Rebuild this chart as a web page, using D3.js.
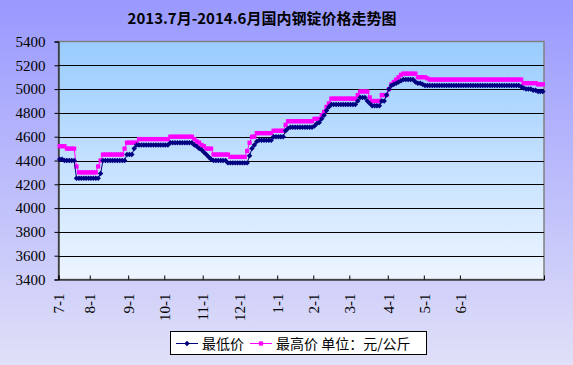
<!DOCTYPE html>
<html>
<head>
<meta charset="utf-8">
<script src="https://cdn.jsdelivr.net/npm/d3@7"></script>
<style>
  body { margin: 0; }
</style>
</head>
<body>
<div class="canvas"></div>
<script>
// month labels on the category axis and the category where each one sits
const tickLabels = ["7-1", "8-1", "9-1", "10-1", "11-1", "12-1", "1-1", "2-1", "3-1", "4-1", "5-1", "6-1"]
const tickIndex = [0, 13, 29, 44, 60, 75, 91, 106, 121, 137, 152, 167]
const yTicks = [3400, 3600, 3800, 4000, 4200, 4400, 4600, 4800, 5000, 5200, 5400]

// 最低价 (元/公斤), one value per quote
const lowPrices = [
  4410, 4410, 4400, 4400, 4400, 4400, 4400, 4250, 4250, 4250,
  4250, 4250, 4250, 4250, 4250, 4250, 4250, 4290, 4400, 4400,
  4400, 4400, 4400, 4400, 4400, 4400, 4400, 4400, 4450, 4450,
  4450, 4500, 4530, 4530, 4530, 4530, 4530, 4530, 4530, 4530,
  4530, 4530, 4530, 4530, 4530, 4530, 4550, 4550, 4550, 4550,
  4550, 4550, 4550, 4550, 4550, 4550, 4530, 4520, 4500, 4490,
  4470, 4450, 4430, 4410, 4400, 4400, 4400, 4400, 4400, 4400,
  4380, 4380, 4380, 4380, 4380, 4380, 4380, 4380, 4380, 4440,
  4500, 4530, 4560, 4570, 4570, 4570, 4570, 4570, 4570, 4600,
  4600, 4600, 4600, 4600, 4650, 4670, 4680, 4680, 4680, 4680,
  4680, 4680, 4680, 4680, 4680, 4680, 4690, 4710, 4720, 4750,
  4780, 4820, 4850, 4870, 4870, 4870, 4870, 4870, 4870, 4870,
  4870, 4870, 4870, 4870, 4900, 4930, 4930, 4930, 4900, 4880,
  4860, 4860, 4860, 4860, 4900, 4900, 4950, 5000, 5030, 5040,
  5050, 5060, 5070, 5080, 5080, 5080, 5080, 5080, 5060, 5050,
  5050, 5040, 5030, 5030, 5030, 5030, 5030, 5030, 5030, 5030,
  5030, 5030, 5030, 5030, 5030, 5030, 5030, 5030, 5030, 5030,
  5030, 5030, 5030, 5030, 5030, 5030, 5030, 5030, 5030, 5030,
  5030, 5030, 5030, 5030, 5030, 5030, 5030, 5030, 5030, 5030,
  5030, 5030, 5020, 5010, 5000, 5000, 5000, 4990, 4990, 4980,
  4980, 4980
]

// 最高价 (元/公斤)
const highPrices = [
  4520, 4520, 4520, 4500, 4500, 4500, 4500, 4350, 4300, 4300,
  4300, 4300, 4300, 4300, 4300, 4300, 4350, 4400, 4450, 4450,
  4450, 4450, 4450, 4450, 4450, 4450, 4450, 4500, 4550, 4550,
  4550, 4550, 4550, 4580, 4580, 4580, 4580, 4580, 4580, 4580,
  4580, 4580, 4580, 4580, 4580, 4580, 4600, 4600, 4600, 4600,
  4600, 4600, 4600, 4600, 4600, 4600, 4580, 4560, 4550, 4530,
  4520, 4500, 4500, 4500, 4450, 4450, 4450, 4450, 4450, 4450,
  4450, 4430, 4430, 4430, 4430, 4430, 4430, 4430, 4480, 4550,
  4600, 4600, 4630, 4630, 4630, 4630, 4630, 4630, 4630, 4650,
  4650, 4650, 4650, 4650, 4700, 4730, 4730, 4730, 4730, 4730,
  4730, 4730, 4730, 4730, 4730, 4730, 4750, 4750, 4750, 4780,
  4810, 4850, 4880, 4920, 4920, 4920, 4920, 4920, 4920, 4920,
  4920, 4920, 4920, 4920, 4950, 4980, 4980, 4980, 4980, 4930,
  4900, 4900, 4900, 4900, 4950, 4950, 4950, 5000, 5040, 5060,
  5080, 5100, 5120, 5130, 5130, 5130, 5130, 5130, 5130, 5100,
  5100, 5100, 5100, 5090, 5080, 5080, 5080, 5080, 5080, 5080,
  5080, 5080, 5080, 5080, 5080, 5080, 5080, 5080, 5080, 5080,
  5080, 5080, 5080, 5080, 5080, 5080, 5080, 5080, 5080, 5080,
  5080, 5080, 5080, 5080, 5080, 5080, 5080, 5080, 5080, 5080,
  5080, 5080, 5080, 5050, 5050, 5050, 5050, 5050, 5050, 5040,
  5040, 5040
]

const width = 573
const height = 365
const plotLeft = 58.5, plotRight = 544, plotTop = 41.5, plotBottom = 279.5

const svg = d3
  .select(".canvas")
  .append("svg")
  .attr("width", width)
  .attr("height", height)

const defs = svg.append("defs")
const bgGrad = defs.append("linearGradient").attr("id", "bg").attr("x1", 0).attr("y1", 0).attr("x2", 0).attr("y2", 1)
bgGrad.append("stop").attr("offset", "0%").attr("stop-color", "#9999ff")
bgGrad.append("stop").attr("offset", "100%").attr("stop-color", "#e0e0f8")
const plotGrad = defs.append("linearGradient").attr("id", "plotbg").attr("x1", 0).attr("y1", 0).attr("x2", 0).attr("y2", 1)
plotGrad.append("stop").attr("offset", "0%").attr("stop-color", "#99ccff")
plotGrad.append("stop").attr("offset", "100%").attr("stop-color", "#eef5ff")

svg.append("rect").attr("width", width).attr("height", height).attr("fill", "url(#bg)")

// title
svg
  .append("text")
  .attr("x", 262)
  .attr("y", 24)
  .attr("text-anchor", "middle")
  .style("font-family", "'Noto Sans CJK SC', sans-serif")
  .style("font-size", "15px")
  .style("font-weight", "bold")
  .text("2013.7月-2014.6月国内钢锭价格走势图")

let x = d3.scaleLinear().domain([0, lowPrices.length]).range([plotLeft, plotRight])
let y = d3.scaleLinear().domain([3400, 5400]).range([plotBottom, plotTop])

svg
  .append("rect")
  .attr("x", plotLeft)
  .attr("y", plotTop)
  .attr("width", plotRight - plotLeft)
  .attr("height", plotBottom - plotTop)
  .attr("fill", "url(#plotbg)")
  .attr("stroke", "#808080")
  .attr("stroke-width", 1.5)

// gridlines
svg
  .append("g")
  .selectAll("line")
  .data(yTicks.slice(1, -1))
  .enter()
  .append("line")
  .attr("x1", plotLeft)
  .attr("x2", plotRight)
  .attr("y1", d => Math.round(y(d)) + 0.5)
  .attr("y2", d => Math.round(y(d)) + 0.5)
  .attr("stroke", "#000")

// y axis
let yAxis = svg
  .append("g")
  .attr("transform", `translate(${plotLeft},0)`)
  .call(d3.axisLeft(y).tickValues(yTicks).tickSize(4).tickFormat(d3.format("d")))
yAxis.select(".domain").attr("stroke", "#000")
yAxis
  .selectAll("text")
  .attr("x", -13)
  .style("font-family", "'Liberation Serif', serif")
  .style("font-size", "15px")
  .attr("fill", "#000")

// x axis
let xAxis = svg
  .append("g")
  .attr("transform", `translate(0,${plotBottom})`)
  .call(
    d3.axisBottom(x)
      .tickValues(tickIndex)
      .tickSize(-4)
      .tickFormat((d, i) => tickLabels[i])
  )
xAxis.select(".domain").attr("stroke", "#000")
xAxis
  .selectAll("text")
  .attr("transform", "rotate(-90)")
  .attr("x", -14)
  .attr("y", 0)
  .attr("dy", "0.35em")
  .attr("text-anchor", "end")
  .style("font-family", "'Liberation Serif', serif")
  .style("font-size", "15px")
  .attr("fill", "#000")

// series: diamonds are squares turned 45 degrees, like the spreadsheet marker
const series = [
  { name: "最低价", values: lowPrices, color: "#000080", size: 15, turn: 45 },
  { name: "最高价", values: highPrices, color: "#ff00ff", size: 18, turn: 0 }
]
let line = d3
  .line()
  .x((d, i) => x(i + 0.5))
  .y(d => y(d))

// draw the high series first so the low markers sit on top
series
  .slice()
  .reverse()
  .forEach(s => {
    svg
      .append("path")
      .datum(s.values)
      .attr("d", line)
      .attr("fill", "none")
      .attr("stroke", s.color)
      .attr("stroke-width", 1)
    svg
      .append("g")
      .selectAll("path")
      .data(s.values)
      .enter()
      .append("path")
      .attr("d", d3.symbol().type(d3.symbolSquare).size(s.size))
      .attr("transform", (d, i) => `translate(${x(i + 0.5)},${y(d)}) rotate(${s.turn})`)
      .attr("fill", s.color)
  })

// legend
let legend = svg.append("g")
legend
  .append("rect")
  .attr("x", 170.5)
  .attr("y", 331.5)
  .attr("width", 256)
  .attr("height", 23)
  .attr("fill", "#fff")
  .attr("stroke", "#000")
const legendItems = [
  { x: 176, label: "最低价" },
  { x: 250, label: "最高价 单位：元/公斤" }
]
legendItems.forEach((item, k) => {
  let s = series[k]
  legend
    .append("line")
    .attr("x1", item.x)
    .attr("x2", item.x + 22)
    .attr("y1", 343.5)
    .attr("y2", 343.5)
    .attr("stroke", s.color)
  legend
    .append("path")
    .attr("d", d3.symbol().type(d3.symbolSquare).size(s.size))
    .attr("transform", `translate(${item.x + 11},343.5) rotate(${s.turn})`)
    .attr("fill", s.color)
  legend
    .append("text")
    .attr("x", item.x + 26)
    .attr("y", 348.5)
    .style("font-family", "'Noto Sans CJK SC', sans-serif")
    .style("font-size", "14px")
    .text(item.label)
})
</script>
</body>
</html>
